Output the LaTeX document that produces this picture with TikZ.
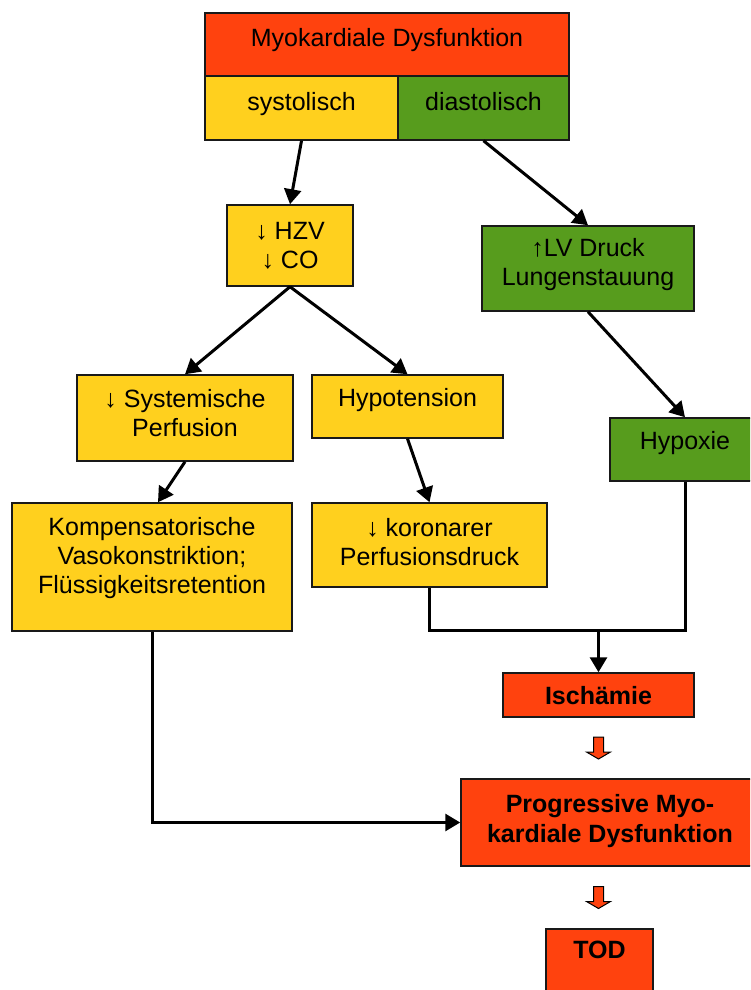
\documentclass[tikz,border=0pt]{standalone}
\usepackage{fontspec}
\setmainfont{Liberation Sans}
\usetikzlibrary{arrows.meta,calc}

\definecolor{boxred}{RGB}{255,66,14}
\definecolor{boxyellow}{RGB}{255,208,30}
\definecolor{boxgreen}{RGB}{87,156,29}
\definecolor{edge}{RGB}{25,25,25}

\tikzset{
  box/.style={draw=edge, line width=1.5pt, rectangle, inner sep=0pt, align=center,
    font=\fontsize{25}{29}\selectfont, text=black},
  redbox/.style={box, fill=boxred},
  yelbox/.style={box, fill=boxyellow},
  grnbox/.style={box, fill=boxgreen},
  flow/.style={line width=3pt, draw=black, line join=miter,
    -{Triangle[length=15pt,width=17pt]}},
  plainflow/.style={line width=3pt, draw=black, line join=miter},
  downblock/.pic={
    \filldraw[fill=boxred, draw=black, line width=1pt, line join=miter]
      (-5,-11) -- (5,-11) -- (5,4) -- (12,4) -- (0,11) -- (-12,4) -- (-5,4) -- cycle;
  }
}

\begin{document}
\begin{tikzpicture}[x=1pt, y=-1pt]
  \useasboundingbox (0,0) rectangle (750,990);
  \clip (0,0) rectangle (750,990);

  % header with its two kinds
  \node[redbox, minimum width=364pt, minimum height=63pt, text depth=15pt]
    (top) at (387,44.5) {Myokardiale Dysfunktion};
  \node[yelbox, minimum width=193pt, minimum height=64pt, text depth=13pt]
    (sys) at (301.5,108) {systolisch};
  \node[grnbox, minimum width=171pt, minimum height=64pt, text depth=13pt]
    (dia) at (483.5,108) {diastolisch};

  % systolic branch
  \node[yelbox, minimum width=126pt, minimum height=81pt, text depth=1pt]
    (hzv) at (290,245.5) {↓ HZV\\↓ CO};
  \node[yelbox, minimum width=216pt, minimum height=86pt, text depth=11pt]
    (sysperf) at (185,418) {↓ Systemische\\Perfusion};
  \node[yelbox, minimum width=191pt, minimum height=63pt, text depth=19pt]
    (hypo) at (407.5,406.5) {Hypotension};
  \node[yelbox, minimum width=280pt, minimum height=128pt, text depth=24pt]
    (komp) at (152,567) {Kompensatorische\\Vasokonstriktion;\\Flüssigkeitsretention};
  \node[yelbox, minimum width=235pt, minimum height=84pt, text depth=7pt]
    (koron) at (429.5,545) {↓ koronarer\\Perfusionsdruck};

  % diastolic branch
  \node[grnbox, minimum width=212pt, minimum height=85pt, text depth=14pt]
    (lv) at (588,268.5) {↑LV Druck\\Lungenstauung};
  \node[grnbox, minimum width=150pt, minimum height=63pt, text depth=19pt]
    (hypox) at (685,449.5) {Hypoxie};

  % outcome chain
  \node[redbox, minimum width=191pt, minimum height=44pt, text depth=0pt,
        font=\fontsize{25}{29}\selectfont\bfseries]
    (isch) at (598.5,695) {Ischämie};
  \node[redbox, minimum width=298pt, minimum height=87pt, text depth=9pt,
        font=\fontsize{25}{30}\selectfont\bfseries]
    (prog) at (610,822.5) {Progressive Myo-\\kardiale Dysfunktion};
  \node[redbox, minimum width=107pt, minimum height=71pt, text depth=29pt,
        font=\fontsize{25}{29}\selectfont\bfseries]
    (tod) at (599.5,964.5) {TOD};

  % connectors
  \draw[flow] (sys.south) -- (hzv.north);
  \draw[flow] (dia.south) -- (lv.north);
  \draw[flow] (hzv.south) -- (sysperf.north);
  \draw[flow] (hzv.south) -- (hypo.north);
  \draw[flow] (lv.south) -- (hypox.north);
  \draw[flow] (sysperf.south) -- ($(komp.north)+(6,0)$);
  \draw[flow] (hypo.south) -- (koron.north);

  \coordinate (join) at (isch.north |- 0,630);
  \draw[plainflow] (koron.south) -- (koron.south |- join) -- (hypox.south |- join) -- (hypox.south);
  \draw[flow] (join) -- (isch.north);
  \draw[flow] (komp.south) |- (prog.west);

  % block arrows between the outcome boxes
  \pic at ($(isch.south)!0.5!(isch.south |- prog.north)$) {downblock};
  \pic at ($(isch.south |- prog.south)!0.5!(isch.south |- tod.north)$) {downblock};
\end{tikzpicture}
\end{document}
